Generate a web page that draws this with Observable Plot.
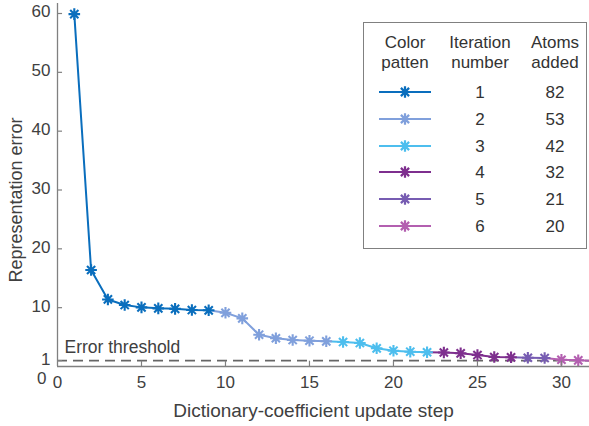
<!DOCTYPE html>
<html>
<head>
<meta charset="utf-8">
<script src="https://cdn.jsdelivr.net/npm/d3@7"></script>
<script src="https://cdn.jsdelivr.net/npm/@observablehq/plot@0.6"></script>
<style>
  html, body { margin: 0; padding: 0; background: #fff; }
  #wrap { position: relative; width: 589px; height: 426px; font-family: "Liberation Sans", Arial, sans-serif; color: #333; }
  #legend { position: absolute; left: 363px; top: 22px; width: 224px; height: 227px; border: 1.3px solid #808080; background: #fff; box-sizing: border-box; font-size: 17px; }
  #legend .c { position: absolute; transform: translate(-50%, -50%); white-space: nowrap; line-height: 1; }
</style>
</head>
<body>
<div id="wrap"></div>
<script>
// ---- data ----
const steps = [1,2,3,4,5,6,7,8,9,10,11,12,13,14,15,16,17,18,19,20,21,22,23,24,25,26,27,28,29,30,31,32];
const errors = [59.9,16.4,11.4,10.45,10.05,9.88,9.8,9.6,9.55,9.13,8.18,5.4,4.8,4.5,4.38,4.28,4.16,3.99,3.09,2.68,2.51,2.42,2.38,2.24,1.95,1.61,1.56,1.49,1.44,1.15,1.05,0.93];
const stepIteration = [1,1,1,1,1,1,1,1,1,2,2,2,2,2,2,2,3,3,3,3,3,3,4,4,4,4,4,5,5,6,6,6];
const iterations = [1,2,3,4,5,6];
const atomsAdded = [82,53,42,32,21,20];
const iterColors = ["#0A6EBD","#80A0DC","#4DBEEE","#7E2F8E","#775CB2","#B35FB0"];
const threshold = 1;
const yTicks = [1,10,20,30,40,50,60];
const xTicks = [0,5,10,15,20,25,30];
const xLabel = "Dictionary-coefficient update step";
const yLabel = "Representation error";
const thresholdLabel = "Error threshold";
const legendHeaders = [["Color","patten"],["Iteration","number"],["Atoms","added"]];

// ---- build tables ----
const points = steps.map((s, i) => ({step: s, err: errors[i], iter: stepIteration[i]}));
// each iteration's line starts from the previous iteration's last point
const segs = [];
iterations.forEach(it => {
  const idx = points.map((p, i) => p.iter === it ? i : -1).filter(i => i >= 0);
  if (!idx.length) return;
  const start = Math.max(0, idx[0] - 1);
  for (let i = start; i <= idx[idx.length - 1]; i++) segs.push({step: points[i].step, err: points[i].err, iter: it});
});

// 8-spoke asterisk like MATLAB's '*'
const star = {
  draw(ctx, size) {
    const r = Math.sqrt(size / Math.PI);
    const d = r * Math.SQRT1_2;
    ctx.moveTo(0, -r); ctx.lineTo(0, r);
    ctx.moveTo(-r, 0); ctx.lineTo(r, 0);
    ctx.moveTo(-d, -d); ctx.lineTo(d, d);
    ctx.moveTo(-d, d); ctx.lineTo(d, -d);
  }
};

const gray = "#808080";
const txt = "#404040";
const chart = Plot.plot({
  width: 589,
  height: 426,
  marginLeft: 57,
  marginRight: 0,
  marginTop: 3,
  marginBottom: 60,
  style: {fontFamily: "'Liberation Sans', Arial, sans-serif", fontSize: "16px", color: txt, background: "#fff"},
  x: {domain: [0, 31.67]},
  y: {domain: [0, 61.7]},
  color: {domain: iterations, range: iterColors},
  marks: [
    Plot.ruleY([threshold], {stroke: "#666", strokeWidth: 1.6, strokeDasharray: "10,6"}),
    Plot.text([thresholdLabel], {x: 0, y: threshold, text: d => d, textAnchor: "start", lineAnchor: "bottom", dx: 7, dy: -8, fontSize: 17.5, fill: txt}),
    Plot.line(segs, {x: "step", y: "err", z: "iter", stroke: "iter", strokeWidth: 2, clip: true}),
    Plot.dot(points, {x: "step", y: "err", stroke: "iter", symbol: star, r: 5.8, strokeWidth: 2.1, clip: true}),
    Plot.ruleX([0], {stroke: gray, strokeWidth: 1.3}),
    Plot.ruleY([0], {stroke: gray, strokeWidth: 1.3}),
    Plot.ruleY(yTicks, {x1: 0, x2: 0.3, stroke: gray, strokeWidth: 1.2}),
    Plot.ruleX(xTicks.filter(d => d > 0), {y1: 0, y2: 0.9, stroke: gray, strokeWidth: 1.2}),
    Plot.axisY(yTicks, {tickSize: 0, tickPadding: 7, label: null, fontSize: 17, dy: -1.5}),
    Plot.axisY([0], {tickSize: 0, tickPadding: 11, label: null, dy: 12, fontSize: 17}),
    Plot.axisX(xTicks, {tickSize: 0, tickPadding: 9, label: null, fontSize: 17}),
    Plot.text([xLabel], {frameAnchor: "bottom", text: d => d, dx: -10, dy: 50, lineAnchor: "bottom", fontSize: 19, fill: txt}),
    Plot.text([yLabel], {frameAnchor: "left", text: d => d, textAnchor: "middle", rotate: -90, dx: -41, dy: 15, lineAnchor: "middle", fontSize: 18, fill: txt})
  ]
});

const wrap = document.getElementById("wrap");
wrap.appendChild(chart);

// ---- legend table ----
const legend = document.createElement("div");
legend.id = "legend";
wrap.appendChild(legend);
const colX = [41, 116, 191];
legendHeaders.forEach((h, j) => {
  h.forEach((t, k) => {
    const el = document.createElement("div");
    el.className = "c";
    el.style.left = colX[j] + "px";
    el.style.top = (19 + k * 20) + "px";
    el.textContent = t;
    legend.appendChild(el);
  });
});
iterations.forEach((it, i) => {
  const cy = 69 + i * 26.8;
  const sw = d3.create("svg").attr("width", 54).attr("height", 14);
  sw.append("line").attr("x1", 1).attr("x2", 53).attr("y1", 7).attr("y2", 7).attr("stroke", iterColors[i]).attr("stroke-width", 2.2);
  const p = d3.path();
  star.draw(p, Math.PI * 5.8 * 5.8);
  sw.append("path").attr("d", p.toString()).attr("transform", "translate(27,7)").attr("stroke", iterColors[i]).attr("stroke-width", 2.2).attr("fill", "none");
  const s = document.createElement("div");
  s.className = "c";
  s.style.left = colX[0] + "px";
  s.style.top = cy + "px";
  s.style.lineHeight = "0";
  s.appendChild(sw.node());
  legend.appendChild(s);
  [it, atomsAdded[i]].forEach((v, j) => {
    const el = document.createElement("div");
    el.className = "c";
    el.style.left = colX[j + 1] + "px";
    el.style.top = cy + "px";
    el.textContent = v;
    legend.appendChild(el);
  });
});
</script>
</body>
</html>
